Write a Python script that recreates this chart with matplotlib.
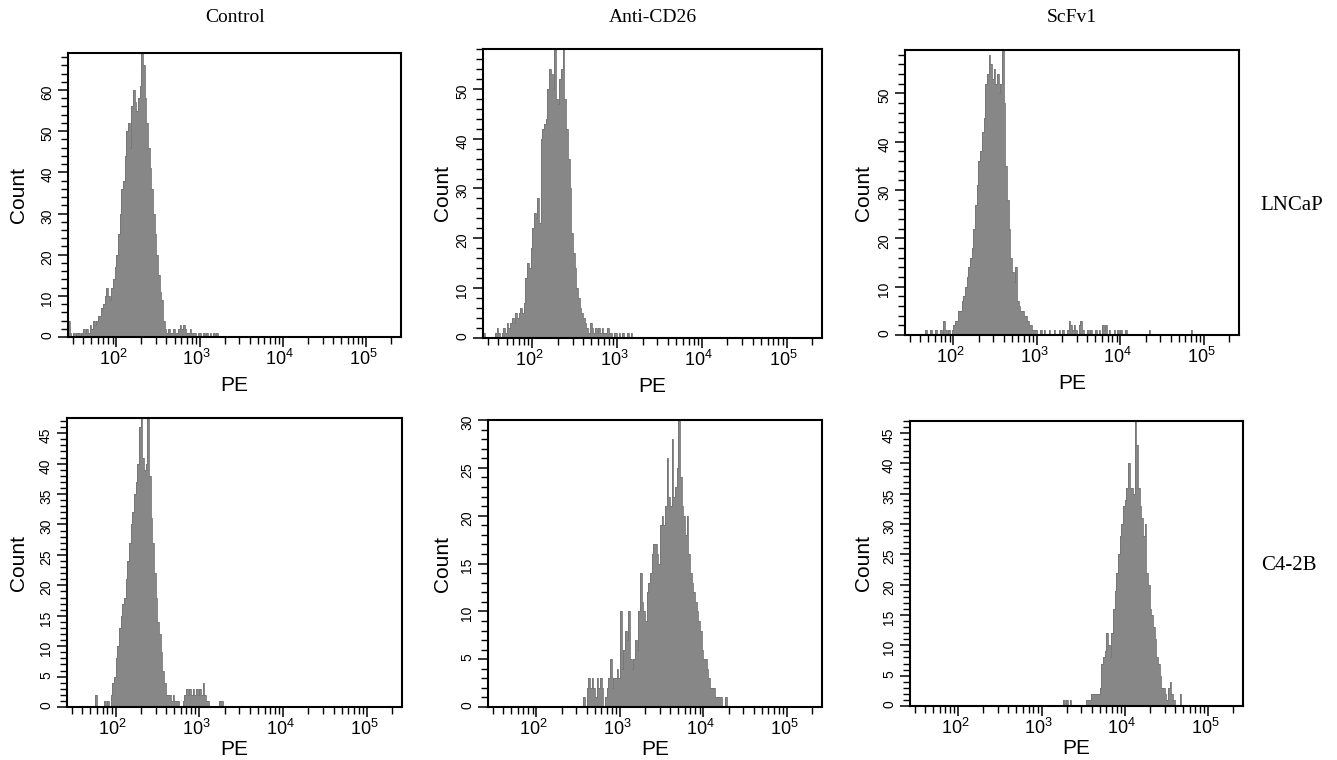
import numpy as np
import matplotlib
matplotlib.use('Agg')
import matplotlib.pyplot as plt
import matplotlib.transforms as mtransforms
from matplotlib.ticker import MultipleLocator, LogLocator, NullFormatter, FixedLocator

plt.rcParams['font.family'] = ['Liberation Sans', 'DejaVu Sans']
plt.rcParams['mathtext.fontset'] = 'custom'
plt.rcParams['mathtext.rm'] = 'Liberation Sans'
plt.rcParams['mathtext.it'] = 'Liberation Sans:italic'

col_titles = ['Control', 'Anti-CD26', 'ScFv1']
row_labels = ['LNCaP', 'C4-2B']

# histogram bins are 0.02 wide in log10(PE)
bin_w = 0.02
lo, hi = 1.42, 5.42

# LNCaP - Control (first bin starts at log10 = 1.42)
ln_ctrl_start = 1.42
ln_ctrl = [4, 1, 0, 1, 0, 1, 1, 0, 1, 2, 1, 2, 1, 3, 2, 4, 3, 4, 5, 5,
           7, 8, 10, 12, 10, 9, 12, 14, 17, 20, 25, 30, 36, 38, 44, 50, 52, 46, 56, 60,
           57, 55, 58, 61, 69, 66, 58, 52, 46, 41, 36, 30, 25, 20, 15, 11, 9, 4, 2, 1,
           2, 1, 1, 2, 1, 1, 2, 3, 2, 3, 2, 1, 1, 2, 1, 1, 1, 0, 1, 1,
           0, 1, 0, 1, 0, 1, 0, 1, 0, 1]
ln_ctrl_extra = []

# LNCaP - Anti-CD26
ln_anti_start = 1.42
ln_anti = [1, 0, 0, 0, 0, 0, 0, 1, 2, 1, 0, 1, 2, 1, 3, 2, 3, 4, 3, 5,
           4, 5, 6, 5, 7, 12, 15, 14, 18, 22, 25, 24, 28, 23, 40, 42, 43, 44, 50, 54,
           53, 50, 59, 48, 47, 52, 54, 59, 48, 42, 36, 30, 21, 17, 14, 10, 8, 6, 5, 4,
           3, 2, 1, 3, 2, 1, 2, 1, 2, 1, 2, 1, 1, 2, 1, 1, 0, 1, 1, 0,
           1, 0, 1, 0, 0, 1, 0, 1]
ln_anti_extra = []

# LNCaP - ScFv1
ln_scfv_start = 1.94
ln_scfv = [1, 0, 1, 2, 3, 3, 5, 5, 7, 8, 10, 12, 14, 16, 18, 22, 27, 31, 36, 38,
           42, 45, 52, 54, 58, 56, 53, 55, 52, 54, 50, 52, 60, 48, 35, 28, 22, 16, 13, 11,
           14, 7, 6, 5, 5, 4, 4, 3, 2, 2, 1, 1, 1]
ln_scfv_extra = [(1.66, 1), (1.72, 1), (1.78, 1), (1.84, 1), (1.88, 3), (1.90, 1),
                 (3.04, 1), (3.08, 1), (3.14, 1), (3.20, 1), (3.26, 1), (3.30, 1),
                 (3.36, 1), (3.38, 3), (3.40, 2), (3.42, 1), (3.44, 2), (3.46, 1),
                 (3.50, 2), (3.52, 3), (3.54, 1), (3.60, 1), (3.64, 1), (3.70, 1),
                 (3.74, 1), (3.78, 2), (3.80, 1), (3.82, 2), (3.86, 1), (3.92, 1),
                 (3.96, 1), (4.00, 1), (4.06, 1), (4.34, 1), (4.84, 1)]

# C4-2B - Control
c4_ctrl_start = 1.94
c4_ctrl = [2, 4, 5, 8, 10, 13, 15, 17, 18, 21, 24, 27, 30, 32, 35, 37, 40, 46, 49, 41,
           39, 40, 49, 38, 31, 27, 22, 18, 14, 12, 9, 6, 4, 2, 2, 2, 1, 2, 1, 1,
           1, 0, 0, 1, 2, 3, 2, 3, 2, 3, 2, 3, 2, 3, 2, 4, 2, 1, 1]
c4_ctrl_extra = [(1.76, 2), (1.86, 1), (1.90, 1), (3.24, 1), (3.26, 1)]

# C4-2B - Anti-CD26
c4_anti_start = 2.56
c4_anti = [1, 0, 2, 3, 2, 3, 2, 1, 3, 2, 3, 2, 0, 1, 2, 3, 5, 2, 3, 3,
           4, 3, 10, 4, 6, 8, 7, 10, 5, 4, 5, 7, 6, 10, 14, 11, 10, 9, 12, 13,
           14, 16, 17, 17, 16, 15, 19, 20, 19, 21, 26, 22, 21, 28, 22, 23, 25, 30, 24, 21,
           20, 18, 20, 16, 14, 13, 12, 11, 10, 9, 8, 6, 5, 5, 4, 3, 2, 2, 2, 1,
           1, 1, 1, 0, 0, 1]
c4_anti_extra = []

# C4-2B - ScFv1
c4_scfv_start = 3.54
c4_scfv = [1, 1, 1, 2, 2, 2, 2, 2, 3, 7, 8, 9, 12, 10, 8, 12, 16, 19, 22, 25,
           28, 30, 33, 34, 36, 40, 36, 36, 35, 48, 43, 36, 33, 31, 28, 30, 22, 20, 16, 15,
           13, 11, 8, 7, 5, 3, 3, 2, 1, 3, 4, 2, 1, 0, 0, 0, 2]
c4_scfv_extra = [(3.26, 1), (3.30, 1), (3.34, 1)]

panels = [
    (ln_ctrl_start, ln_ctrl, ln_ctrl_extra),
    (ln_anti_start, ln_anti, ln_anti_extra),
    (ln_scfv_start, ln_scfv, ln_scfv_extra),
    (c4_ctrl_start, c4_ctrl, c4_ctrl_extra),
    (c4_anti_start, c4_anti, c4_anti_extra),
    (c4_scfv_start, c4_scfv, c4_scfv_extra),
]
y_max = [69, 58, 59, 47.5, 30, 47]
y_major = [10, 10, 10, 5, 5, 5]
y_minor = [2, 2, 2, 1, 1, 1]

# axes rectangles (left, bottom, width, height) in figure fraction
rects = [
    [0.0509, 0.5566, 0.2491, 0.3737],
    [0.3613, 0.5553, 0.2536, 0.3803],
    [0.6769, 0.5592, 0.2498, 0.3750],
    [0.0501, 0.0697, 0.2506, 0.3803],
    [0.3650, 0.0697, 0.2498, 0.3776],
    [0.6806, 0.0711, 0.2491, 0.3750],
]
count_off = [40, 31, 32, 39, 36, 37]   # px from frame to "Count"

n_bins = int(round((hi - lo) / bin_w))
edges = 10 ** (lo + bin_w * np.arange(n_bins + 1))


def full_counts(start, counts, extra):
    h = np.zeros(n_bins)
    i0 = int(round((start - lo) / bin_w))
    h[i0:i0 + len(counts)] = counts
    for lg, c in extra:
        h[int(round((lg - lo) / bin_w))] += c
    return h


W, H = 1337, 760
fig = plt.figure(figsize=(W / 100, H / 100), dpi=100)
shift = mtransforms.ScaledTranslation(-3 / 100, 0, fig.dpi_scale_trans)

for k, (start, counts, extra) in enumerate(panels):
    ax = fig.add_axes(rects[k])
    h = full_counts(start, counts, extra)
    ax.stairs(h, edges, fill=True, color='#878787', lw=0)
    ax.stairs(h, edges, fill=False, color='#747474', lw=0.6)

    ax.set_xscale('log')
    ax.set_xlim(10 ** lo, 10 ** hi)
    ax.set_ylim(0, y_max[k])

    ax.xaxis.set_major_locator(FixedLocator([1e2, 1e3, 1e4, 1e5]))
    ax.set_xticklabels([r'$10^{2}$', r'$10^{3}$', r'$10^{4}$', r'$10^{5}$'])
    ax.xaxis.set_minor_locator(LogLocator(base=10, subs=np.arange(2, 10), numticks=20))
    ax.xaxis.set_minor_formatter(NullFormatter())
    ax.yaxis.set_major_locator(MultipleLocator(y_major[k]))
    ax.yaxis.set_minor_locator(MultipleLocator(y_minor[k]))

    ax.tick_params(which='major', direction='out', length=7, width=1.1, color='black')
    ax.tick_params(which='minor', direction='out', length=5, width=1.0, color='black')
    ax.tick_params(axis='x', labelsize=13, pad=1.5)
    ax.tick_params(axis='y', labelsize=10, labelrotation=90, pad=3)
    for lab in ax.get_xticklabels():
        lab.set_transform(lab.get_transform() + shift)

    for s in ax.spines.values():
        s.set_linewidth(1.5)
        s.set_color('black')

    w_px = rects[k][2] * W
    h_px = rects[k][3] * H
    ax.set_ylabel('Count', fontsize=15)
    ax.yaxis.set_label_coords(-count_off[k] / w_px, 0.5)
    ax.set_xlabel('PE', fontsize=15)
    pe_off = 39 if k < 3 else 33
    ax.xaxis.set_label_coords(0.5, -pe_off / h_px)

    if k < 3:
        cx = rects[k][0] + rects[k][2] / 2
        fig.text(cx, 1 - 17 / H, col_titles[k], ha='center', va='center',
                 family='Liberation Serif', fontsize=14)

fig.text(1292 / W, 1 - 205 / H, row_labels[0], ha='center', va='center',
         family='Liberation Serif', fontsize=15)
fig.text(1289 / W, 1 - 565 / H, row_labels[1], ha='center', va='center',
         family='Liberation Serif', fontsize=15)

fig.savefig('out.png', dpi=100)
